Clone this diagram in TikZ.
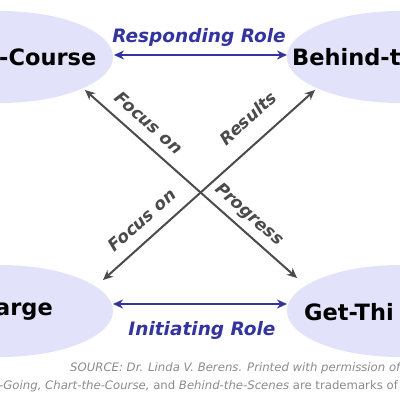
\documentclass[tikz,border=0pt]{standalone}
\usepackage{fontspec}
\setmainfont{DejaVu Sans}
\usetikzlibrary{arrows.meta}
\definecolor{ellfill}{RGB}{226,226,250}
\definecolor{roleblue}{RGB}{52,52,160}
\definecolor{diaggray}{RGB}{75,75,75}
\definecolor{srcgray}{RGB}{140,140,140}
\tikzset{
  ellbox/.style={fill=ellfill, draw=none},
  rolename/.style={font=\fontsize{22.5}{22.5}\selectfont\bfseries, text=black, inner sep=0pt, anchor=west},
  rolearrow/.style={draw=roleblue, line width=2.2pt, {Stealth[length=10pt,width=9pt]}-{Stealth[length=10pt,width=9pt]}},
  rolelabel/.style={font=\fontsize{18.5}{18.5}\selectfont\bfseries\itshape, text=roleblue, inner sep=0pt},
  focusarrow/.style={draw=diaggray, line width=2pt, {Stealth[length=10pt,width=9pt]}-{Stealth[length=10pt,width=9pt]}},
  focuslabel/.style={font=\fontsize{17}{17}\selectfont\bfseries\itshape, text=diaggray, inner sep=0pt},
  srctext/.style={font=\fontsize{11.7}{11.7}\selectfont\itshape, text=srcgray, inner sep=0pt, anchor=west},
}
\begin{document}
\begin{tikzpicture}[x=1pt,y=-1pt]
\useasboundingbox (0,0) rectangle (400,400);
\clip (0,0) rectangle (400,400);
\fill[white] (0,0) rectangle (400,400);
% ellipses
\fill[ellbox] (0,57) ellipse [x radius=113, y radius=46];
\fill[ellbox] (400,57) ellipse [x radius=113, y radius=46];
\fill[ellbox] (0,311) ellipse [x radius=113, y radius=46];
\fill[ellbox] (400,311) ellipse [x radius=113, y radius=46];
\node[rolename] (cc) at (-1,57) {-Course};
\node[rolename] (bs) at (292,57) {Behind-t};
\node[rolename] (tc) at (-5,312) {arge};
\node[rolename] (gt) at (304,312) {Get-Thi};
% coordinates
\coordinate (tl) at (85,90);
\coordinate (br) at (297,278);
\coordinate (tr) at (315,90);
\coordinate (bl) at (103,280);
\coordinate (ra) at (114,55);
\coordinate (rb) at (287,55);
\coordinate (ia) at (113,304);
\coordinate (ib) at (287,304);
% horizontal arrows
\draw[rolearrow] (ra) -- (rb);
\draw[rolearrow] (ia) -- (ib);
\node[rolelabel] (resp) at (199,37) {Responding Role};
\node[rolelabel] (init) at (202,330) {Initiating Role};
% diagonal arrows
\draw[focusarrow] (tl) -- (br);
\draw[focusarrow] (bl) -- (tr);
\node[focuslabel, rotate=-41.6] (f1) at (149,123) {Focus on};
\node[focuslabel, rotate=41.6] (res) at (248,118) {Results};
\node[focuslabel, rotate=41.6] (f2) at (142,220) {Focus on};
\node[focuslabel, rotate=-41.6] (prog) at (249,215) {Progress};
% source
\node[srctext] (s1) at (70,368) {SOURCE: Dr. Linda V. Berens. Printed with permission of};
\node[srctext] (s2) at (-1,386) {-Going, Chart-the-Course, {\upshape and} Behind-the-Scenes {\upshape are trademarks of}};
\end{tikzpicture}
\end{document}
